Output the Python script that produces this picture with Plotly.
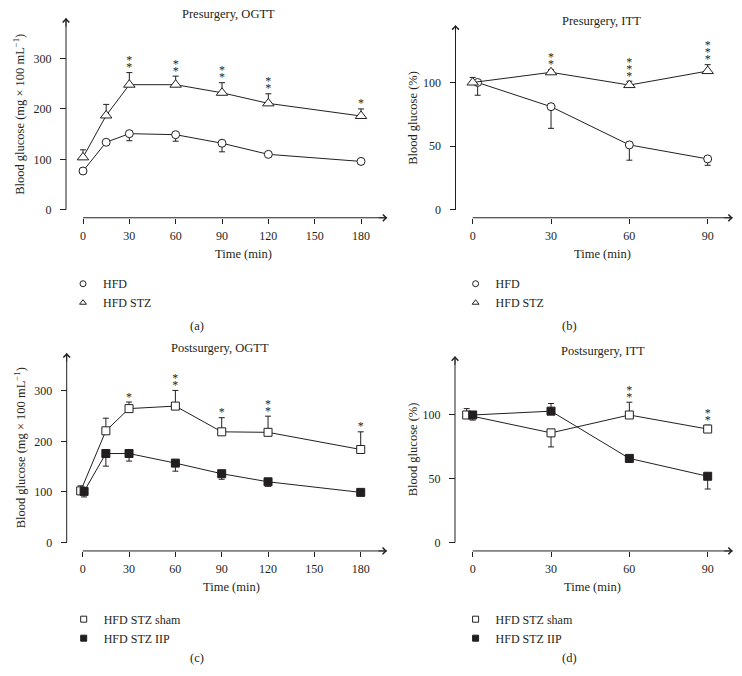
import plotly.graph_objects as go

# ---------------- data ----------------
ogtt_time = [0, 15, 30, 60, 90, 120, 180]
itt_time = [0, 30, 60, 90]
ogtt_xticks = [0, 30, 60, 90, 120, 150, 180]
itt_xticks = [0, 30, 60, 90]
ogtt_yticks = [0, 100, 200, 300]
itt_yticks = [0, 50, 100]

# (a) Presurgery, OGTT
a_hfd = [77, 134, 151, 149, 132, 110, 96]
a_hfd_up = [0, 0, 0, 0, 0, 0, 0]
a_hfd_dn = [3, 3, 14, 13, 17, 3, 2]
a_stz = [104, 187, 248, 248, 232, 211, 186]
a_stz_up = [15, 22, 24, 17, 20, 19, 14]
a_stz_dn = [0, 0, 0, 0, 0, 0, 0]
a_stars = [0, 0, 2, 2, 2, 2, 1]

# (b) Presurgery, ITT
b_hfd = [100, 81, 51, 40]
b_hfd_up = [0, 0, 0, 0]
b_hfd_dn = [10, 17, 12, 5]
b_stz = [100, 108, 98, 109]
b_stz_up = [4, 2, 3, 5]
b_stz_dn = [0, 0, 0, 0]
b_stars = [0, 2, 3, 3]

# (c) Postsurgery, OGTT
c_sham = [102, 221, 265, 270, 219, 218, 184]
c_sham_up = [10, 25, 13, 31, 28, 32, 35]
c_sham_dn = [0, 0, 0, 0, 0, 0, 0]
c_iip = [101, 176, 176, 157, 136, 120, 99]
c_iip_up = [0, 0, 0, 0, 0, 0, 0]
c_iip_dn = [11, 25, 15, 16, 11, 9, 4]
c_stars = [0, 0, 1, 2, 1, 2, 1]

# (d) Postsurgery, ITT
d_sham = [100, 86, 100, 89]
d_sham_up = [5, 0, 10, 3]
d_sham_dn = [0, 11, 0, 0]
d_iip = [100, 103, 66, 52]
d_iip_up = [0, 6, 0, 0]
d_iip_dn = [4, 0, 3, 10]
d_stars = [0, 0, 2, 2]

titles = ["Presurgery, OGTT", "Presurgery, ITT", "Postsurgery, OGTT", "Postsurgery, ITT"]
ylabels = ["Blood glucose (mg × 100 mL<sup>−1</sup>)", "Blood glucose (%)",
           "Blood glucose (mg × 100 mL<sup>−1</sup>)", "Blood glucose (%)"]
xlabel = "Time (min)"
panel_tags = ["(a)", "(b)", "(c)", "(d)"]

# ---------------- style / layout ----------------
OFF = 8                      # default page body margin
W, H = 742 - OFF, 676 - OFF  # figure size so it fills the window
INK = "#231f20"
FONT = "Liberation Serif, Times New Roman, serif"


def fx(p):
    return (p - OFF) / W


def fy(p):
    return 1 - (p - OFF) / H


# pixel geometry of each panel (window pixels)
P = {
    1: dict(x0=83, xs=278 / 180, xr=[-6, 197], y0=212, ys=0.51, ytop=380, yax=66, xax=220,
            xt=ogtt_xticks, yt=ogtt_yticks),
    2: dict(x0=472.7, xs=78.33 / 30, xr=[-4, 99.6], y0=212, ys=1.287, ytop=145, yax=455.5, xax=220,
            xt=itt_xticks, yt=itt_yticks),
    3: dict(x0=82.7, xs=278 / 180, xr=[-6, 197], y0=548, ys=0.51, ytop=375, yax=66.7, xax=556.7,
            xt=ogtt_xticks, yt=ogtt_yticks),
    4: dict(x0=472.7, xs=78.33 / 30, xr=[-4, 99.6], y0=548.3, ys=1.29, ytop=146, yax=455, xax=556.7,
            xt=itt_xticks, yt=itt_yticks),
}

fig = go.Figure()
layout = dict(width=W, height=H, margin=dict(l=0, r=0, t=0, b=0),
              plot_bgcolor="white", paper_bgcolor="white",
              font=dict(family=FONT, size=12, color=INK), showlegend=True)
shapes, annotations = [], []

for i, p in P.items():
    sx = "" if i == 1 else str(i)
    xd = [fx(p["x0"] + p["xr"][0] * p["xs"]), fx(p["x0"] + p["xr"][1] * p["xs"])]
    yd = [fy(p["y0"]), fy(p["y0"] - p["ytop"] * p["ys"])]
    layout["xaxis" + sx] = dict(domain=xd, range=p["xr"], anchor="free", position=fy(p["xax"]),
                                showline=False, showgrid=False, zeroline=False,
                                ticks="outside", ticklen=5, tickwidth=1, tickcolor=INK,
                                tickvals=p["xt"], tickfont=dict(size=12, color=INK),
                                ticklabelstandoff=2, fixedrange=True)
    layout["yaxis" + sx] = dict(domain=yd, range=[0, p["ytop"]], anchor="free", position=fx(p["yax"]),
                                showline=False, showgrid=False, zeroline=False,
                                ticks="outside", ticklen=6, tickwidth=1, tickcolor=INK,
                                tickvals=p["yt"], tickfont=dict(size=12, color=INK),
                                ticklabelstandoff=6, fixedrange=True)
    xr, yr = "x" + sx, "y" + sx
    # axis lines
    shapes.append(dict(type="line", xref=xr, yref="paper", x0=0, x1=p["xr"][1],
                       y0=fy(p["xax"]), y1=fy(p["xax"]), line=dict(color=INK, width=1)))
    shapes.append(dict(type="line", xref="paper", yref=yr, x0=fx(p["yax"]), x1=fx(p["yax"]),
                       y0=0, y1=p["ytop"], line=dict(color=INK, width=1)))
    # arrow heads
    annotations.append(dict(x=p["xr"][1], y=fy(p["xax"]), xref=xr, yref="paper", text="",
                            showarrow=True, ax=-10, ay=0, arrowhead=4, arrowsize=1.3,
                            arrowwidth=1, arrowcolor=INK))
    annotations.append(dict(x=fx(p["yax"]), y=p["ytop"], xref="paper", yref=yr, text="",
                            showarrow=True, ax=0, ay=10, arrowhead=4, arrowsize=1.3,
                            arrowwidth=1, arrowcolor=INK))

# text annotations (window pixel centres)
title_pos = [(228, 14), (601, 21), (220, 352), (603, 355)]
xlab_pos = [(244, 257), (602, 257), (231, 593), (592, 593)]
ylab_pos = [(19, 116), (413, 119), (20, 453), (413, 454)]
tag_pos = [(197, 329), (569, 329), (197, 665), (569, 665)]


def label(text, pos, **kw):
    annotations.append(dict(x=fx(pos[0]), y=fy(pos[1]), xref="paper", yref="paper",
                            xanchor="center", yanchor="middle", text=text, showarrow=False,
                            font=dict(size=12.5), **kw))


for k in range(4):
    label(titles[k], title_pos[k])
    label(xlabel, xlab_pos[k])
    label(ylabels[k], ylab_pos[k], textangle=-90)
    label(panel_tags[k], tag_pos[k])


def series(i, times, vals, up, dn, symbol, fill, size, dodge=0.0):
    sx = "" if i == 1 else str(i)
    xs = [t + (dodge if t == 0 else 0) for t in times]
    fig.add_trace(go.Scatter(
        x=xs, y=vals, mode="lines+markers", xaxis="x" + sx, yaxis="y" + sx,
        line=dict(color=INK, width=1),
        marker=dict(symbol=symbol, size=size, color=fill, line=dict(color=INK, width=1)),
        error_y=dict(type="data", symmetric=False, array=up, arrayminus=dn,
                     color=INK, thickness=1, width=3),
        cliponaxis=False, showlegend=False, hoverinfo="skip"))


def stars(i, times, vals, up, counts):
    sx = "" if i == 1 else str(i)
    ppu = P[i]["ys"]
    xs, ys = [], []
    for t, v, u, n in zip(times, vals, up, counts):
        for k in range(n):
            xs.append(t)
            ys.append(v + u + (4.5 + 7 * k) / ppu)
    fig.add_trace(go.Scatter(x=xs, y=ys, mode="text", text=["*"] * len(xs),
                             textposition="middle center", xaxis="x" + sx, yaxis="y" + sx,
                             textfont=dict(family=FONT, size=12, color=INK),
                             cliponaxis=False, showlegend=False, hoverinfo="skip"))


def legend_item(i, name, symbol, fill, leg):
    sx = "" if i == 1 else str(i)
    fig.add_trace(go.Scatter(x=[None], y=[None], mode="markers", name=name, legend=leg,
                             xaxis="x" + sx, yaxis="y" + sx,
                             marker=dict(symbol=symbol, size=6, color=fill,
                                         line=dict(color=INK, width=1))))


# (a)
series(1, ogtt_time, a_hfd, a_hfd_up, a_hfd_dn, "circle", "white", 8)
series(1, ogtt_time, a_stz, a_stz_up, a_stz_dn, "triangle-up", "white", 10)
stars(1, ogtt_time, a_stz, a_stz_up, a_stars)
legend_item(1, "HFD", "circle", "white", "legend")
legend_item(1, "HFD STZ", "triangle-up", "white", "legend")

# (b)
series(2, itt_time, b_hfd, b_hfd_up, b_hfd_dn, "circle", "white", 8, dodge=1.9)
series(2, itt_time, b_stz, b_stz_up, b_stz_dn, "triangle-up", "white", 10)
stars(2, itt_time, b_stz, b_stz_up, b_stars)
legend_item(2, "HFD", "circle", "white", "legend2")
legend_item(2, "HFD STZ", "triangle-up", "white", "legend2")

# (c)
series(3, ogtt_time, c_sham, c_sham_up, c_sham_dn, "square", "white", 8, dodge=-1.3)
series(3, ogtt_time, c_iip, c_iip_up, c_iip_dn, "square", INK, 8, dodge=0.9)
stars(3, ogtt_time, c_sham, c_sham_up, c_stars)
legend_item(3, "HFD STZ sham", "square", "white", "legend3")
legend_item(3, "HFD STZ IIP", "square", INK, "legend3")

# (d)
series(4, itt_time, d_sham, d_sham_up, d_sham_dn, "square", "white", 8, dodge=-2.3)
series(4, itt_time, d_iip, d_iip_up, d_iip_dn, "square", INK, 8)
stars(4, itt_time, d_sham, d_sham_up, d_stars)
legend_item(4, "HFD STZ sham", "square", "white", "legend4")
legend_item(4, "HFD STZ IIP", "square", INK, "legend4")

leg_pos = {"legend": (82, 284), "legend2": (474.6, 284), "legend3": (82.7, 623), "legend4": (474.6, 623)}
for name, (sxp, syp) in leg_pos.items():
    layout[name] = dict(x=fx(sxp - 19), y=fy(syp - 12), xanchor="left", yanchor="top",
                        bgcolor="rgba(0,0,0,0)", borderwidth=0, tracegroupgap=0,
                        font=dict(family=FONT, size=12, color=INK), itemclick=False,
                        itemdoubleclick=False)

layout["shapes"] = shapes
layout["annotations"] = annotations
fig.update_layout(**layout)
fig.write_html("out.html")
